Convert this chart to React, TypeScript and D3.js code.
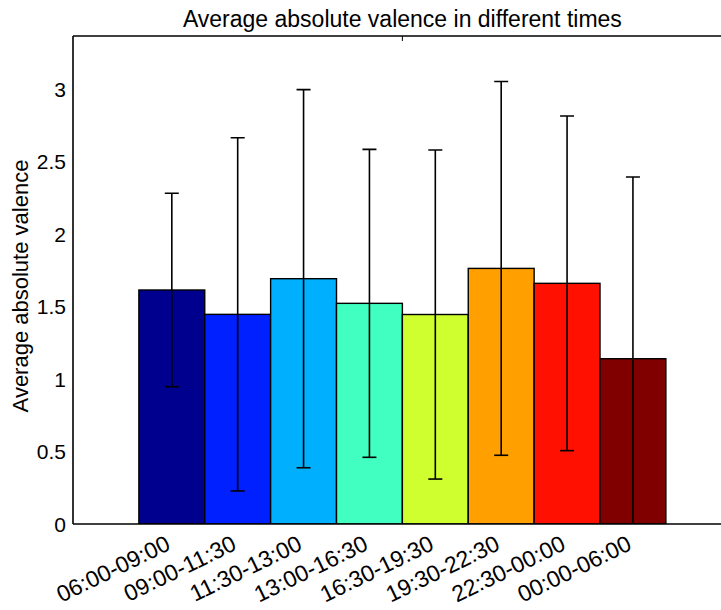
import React from 'react';
import * as d3 from 'd3';

// Time-of-day bins and their average absolute valence with standard deviations
const categories = [
  '06:00-09:00',
  '09:00-11:30',
  '11:30-13:00',
  '13:00-16:30',
  '16:30-19:30',
  '19:30-22:30',
  '22:30-00:00',
  '00:00-06:00',
];
const means = [1.614, 1.446, 1.692, 1.522, 1.445, 1.763, 1.66, 1.14];
const errors = [0.667, 1.218, 1.304, 1.062, 1.135, 1.289, 1.154, 1.253];
const yTicks = [0, 0.5, 1, 1.5, 2, 2.5, 3];
const barColors = ['#00008F', '#0020FF', '#00B0FF', '#40FFC0', '#D0FF30', '#FFA000', '#FF1000', '#800000'];

const W = 721;
const H = 610;
const left = 73;
const top = 36;
const bottom = 524;
const right = 731.75;
const FONT = '"Liberation Sans", Arial, sans-serif';

export default function App() {
  const x = d3.scaleLinear().domain([-0.5, 9.5]).range([left, right]);
  const y = d3.scaleLinear().domain([0, 3.366]).range([bottom, top]);
  const capHalf = 7;

  return (
    <svg
      width={W}
      height={H}
      style={{ position: 'absolute', left: 0, top: 0, background: '#fff' }}
      fontFamily={FONT}
    >
      <defs>
        <clipPath id="plotClip">
          <rect x={left} y={top} width={right - left} height={bottom - top} />
        </clipPath>
      </defs>
      <rect x={0} y={0} width={W} height={H} fill="#fff" />

      {/* bars */}
      <g clipPath="url(#plotClip)">
        {means.map((m, i) => (
          <rect
            key={'b' + i}
            x={x(i + 0.5)}
            y={y(m)}
            width={x(i + 1.5) - x(i + 0.5)}
            height={y(0) - y(m)}
            fill={barColors[i]}
            stroke="#000"
            strokeWidth={1.4}
          />
        ))}
        {/* error bars */}
        {means.map((m, i) => {
          const cx = x(i + 1);
          const hi = y(m + errors[i]);
          const lo = y(m - errors[i]);
          return (
            <g key={'e' + i} stroke="#000" strokeWidth={1.6}>
              <line x1={cx} x2={cx} y1={hi} y2={lo} />
              <line x1={cx - capHalf} x2={cx + capHalf} y1={hi} y2={hi} />
              <line x1={cx - capHalf} x2={cx + capHalf} y1={lo} y2={lo} />
            </g>
          );
        })}
      </g>

      {/* axes box */}
      <g stroke="#000" strokeWidth={1.6} fill="none">
        <line x1={left} x2={right} y1={bottom} y2={bottom} />
        <line x1={left} x2={right} y1={top} y2={top} />
        <line x1={left} x2={left} y1={top} y2={bottom} />
        <line x1={x(4.5)} x2={x(4.5)} y1={top} y2={top + 5} strokeWidth={1} />
      </g>

      {/* y tick labels */}
      {yTicks.map((t) => (
        <text
          key={'yt' + t}
          x={left - 7}
          y={y(t)}
          dy="0.36em"
          textAnchor="end"
          fontSize={21}
          fill="#000"
        >
          {String(t)}
        </text>
      ))}

      {/* x tick labels, rotated */}
      {categories.map((c, i) => {
        const cx = x(i + 1);
        const cy = bottom + 25;
        return (
          <text
            key={'xt' + i}
            x={cx}
            y={cy}
            textAnchor="end"
            fontSize={23}
            fill="#000"
            transform={`rotate(-26 ${cx} ${cy})`}
          >
            {c}
          </text>
        );
      })}

      {/* title */}
      <text x={(left + right) / 2} y={27} textAnchor="middle" fontSize={23} fill="#000">
        Average absolute valence in different times
      </text>

      {/* y axis label */}
      <text
        x={0}
        y={0}
        textAnchor="middle"
        fontSize={22}
        fill="#000"
        transform={`translate(28 ${(top + bottom) / 2 + 6}) rotate(-90)`}
      >
        Average absolute valence
      </text>
    </svg>
  );
}
